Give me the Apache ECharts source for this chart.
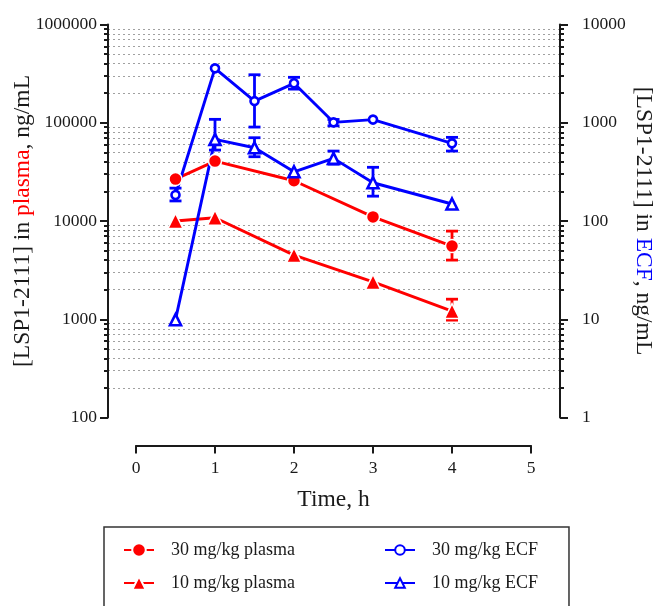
<!DOCTYPE html>
<html><head><meta charset="utf-8">
<script src="https://cdn.jsdelivr.net/npm/echarts@6/dist/echarts.min.js"></script>
<style>html,body{margin:0;padding:0;background:#fff}#c{width:657px;height:606px}</style>
</head><body><div id="c"></div>
<script>
// ---- data ----
const plasma30 = [[0.5,26700],[1,40700],[2,25700],[3,11000],[4,5550]];
const plasma30Err = [[4,4000,7890]];
const plasma10 = [[0.5,10000],[1,10800],[2,4500],[3,2400],[4,1210]];
const plasma10Err = [[4,980,1600]];
const ecf30 = [[0.5,184],[1,3580],[1.5,1660],[2,2520],[2.5,1010],[3,1077],[4,617]];
const ecf30Err = [[0.5,160,216],[1.5,904,3080],[2,2200,2900],[2.5,930,1080],[4,515,710]];
const ecf10 = [[0.5,9.9],[1,678],[1.5,557],[2,317],[2.5,434],[3,245],[4,149]];
const ecf10Err = [[1,527,1083],[1.5,451,704],[2.5,379,515],[3,179,352]];
const xTicks = [0,1,2,3,4,5];
const leftDecades = [100,1000,10000,100000,1000000];
const rightDecades = [1,10,100,1000,10000];
const minorMult = [2,3,4,5,6,7,8,9];
const names = ['30 mg/kg plasma','10 mg/kg plasma','30 mg/kg ECF','10 mg/kg ECF'];

const RED = '#ff0000', BLUE = '#0000ff', INK = '#1a1a1a';
const FONT = 'Liberation Serif';

function minorLogs(decades) {
  const out = [];
  decades.slice(0, -1).forEach(d => minorMult.forEach(m => out.push(Math.log10(d * m))));
  return out;
}
const leftMinor = minorLogs(leftDecades);
const rightMinor = minorLogs(rightDecades);

function errSeries(data, color, yAxisIndex) {
  return {
    type: 'custom', xAxisIndex: 1, yAxisIndex: yAxisIndex, data: data, z: 1,
    encode: {x: 0, y: [1, 2]},
    silent: true,
    renderItem: function (params, api) {
      const x = api.value(0);
      const lo = api.coord([x, api.value(1)]);
      const hi = api.coord([x, api.value(2)]);
      const w = 6;
      const style = {stroke: color, lineWidth: 2.8};
      return {type: 'group', children: [
        {type: 'line', shape: {x1: lo[0], y1: lo[1], x2: hi[0], y2: hi[1]}, style: style},
        {type: 'line', shape: {x1: lo[0]-w, y1: lo[1], x2: lo[0]+w, y2: lo[1]}, style: style},
        {type: 'line', shape: {x1: hi[0]-w, y1: hi[1], x2: hi[0]+w, y2: hi[1]}, style: style}
      ]};
    }
  };
}

function lineSeries(name, data, yAxisIndex, symbol, size, filled, color) {
  return {
    name: name, type: 'line', xAxisIndex: 1, yAxisIndex: yAxisIndex, data: data,
    symbol: symbol, symbolSize: size, showSymbol: true, z: 3,
    lineStyle: {color: color, width: 2.9},
    itemStyle: filled ? {color: color, borderColor: '#fff', borderWidth: 1.5}
                      : {color: '#fff', borderColor: color, borderWidth: 2.6},
    emphasis: {disabled: true}
  };
}

const axisLabelStyle = {color: INK, fontFamily: FONT, fontSize: 17.5};
const nameStyle = {color: INK, fontFamily: FONT, fontSize: 23.5};
const lineOn = {show: true, onZero: false, lineStyle: {color: INK, width: 2}};
const lineOff = {show: false, onZero: false};

const chart = echarts.init(document.getElementById('c'), null, {renderer: 'canvas'});
chart.setOption({
  animation: false,
  backgroundColor: '#fff',
  grid: [
    {left: 108, right: 97, top: 24.5, bottom: 188.5, outerBoundsMode: 'none'},
    {left: 136, right: 126, top: 24.5, bottom: 188.5, outerBoundsMode: 'none'}
  ],
  xAxis: [
    {gridIndex: 0, type: 'value', min: 0, max: 1, show: false, axisLine: lineOff},
    {gridIndex: 1, type: 'value', min: 0, max: 5, interval: 1, offset: 28,
     axisLine: lineOn,
     axisTick: {show: true, length: 8, lineStyle: {color: INK, width: 2}},
     axisLabel: Object.assign({margin: 14, formatter: v => String(v)}, axisLabelStyle),
     splitLine: {show: false},
     name: 'Time, h', nameLocation: 'middle', nameGap: 42, nameMoveOverlap: false, nameTextStyle: nameStyle}
  ],
  yAxis: [
    // 0: grid lines across full width
    {gridIndex: 0, type: 'value', min: 2, max: 6, position: 'left',
     axisLine: lineOff, axisLabel: {show: false},
     axisTick: {show: false, customValues: leftMinor},
     splitLine: {show: true, lineStyle: {color: '#a0a0a0', type: [2, 3], width: 1.2}}},
    // 1: left log axis
    {gridIndex: 1, type: 'log', logBase: 10, min: 100, max: 1000000, position: 'left', offset: 28,
     axisLine: lineOn,
     axisTick: {show: true, length: 8, lineStyle: {color: INK, width: 2}},
     axisLabel: Object.assign({margin: 11, formatter: v => String(Math.round(v))}, axisLabelStyle),
     splitLine: {show: false}, minorTick: {show: false},
     name: '[LSP1-2111] in {r|plasma}, ng/mL', nameLocation: 'middle', nameGap: 73, nameRotate: 90,
     nameMoveOverlap: false,
     nameTextStyle: Object.assign({rich: {r: {color: RED, fontFamily: FONT, fontSize: 23.5}}}, nameStyle)},
    // 2: right log axis
    {gridIndex: 1, type: 'log', logBase: 10, min: 1, max: 10000, position: 'right', offset: 29,
     axisLine: lineOn,
     axisTick: {show: true, length: 8, lineStyle: {color: INK, width: 2}},
     axisLabel: Object.assign({margin: 22, formatter: v => String(Math.round(v))}, axisLabelStyle),
     splitLine: {show: false}, minorTick: {show: false},
     name: '[LSP1-2111] in {b|ECF}, ng/mL', nameLocation: 'middle', nameGap: 71, nameRotate: -90,
     nameMoveOverlap: false,
     nameTextStyle: Object.assign({rich: {b: {color: BLUE, fontFamily: FONT, fontSize: 23.5}}}, nameStyle)},
    // 3: left minor ticks
    {gridIndex: 1, type: 'value', min: 2, max: 6, position: 'left', offset: 28,
     axisLine: lineOff, axisLabel: {show: false}, splitLine: {show: false},
     axisTick: {show: true, length: 4, customValues: leftMinor, lineStyle: {color: INK, width: 2}}},
    // 4: right minor ticks
    {gridIndex: 1, type: 'value', min: 0, max: 4, position: 'right', offset: 29,
     axisLine: lineOff, axisLabel: {show: false}, splitLine: {show: false},
     axisTick: {show: true, length: 4, customValues: rightMinor, lineStyle: {color: INK, width: 2}}}
  ],
  legend: [
    {data: [names[0], names[1]], orient: 'vertical', left: 104, top: 527, height: 120,
     padding: [14, 274, 40, 19], itemGap: 15, itemWidth: 30, itemHeight: 17,
     borderColor: '#333', borderWidth: 1.5, selectedMode: false,
     textStyle: {color: INK, fontFamily: FONT, fontSize: 18, padding: [0, 0, 0, 12]}},
    {data: [names[2], names[3]], orient: 'vertical', left: 384, top: 527, height: 120,
     padding: [14, 5, 5, 0], itemGap: 15, itemWidth: 30, itemHeight: 12, selectedMode: false,
     textStyle: {color: INK, fontFamily: FONT, fontSize: 18, padding: [0, 0, 0, 12]}}
  ],
  series: [
    errSeries(plasma30Err, RED, 1),
    errSeries(plasma10Err, RED, 1),
    errSeries(ecf30Err, BLUE, 2),
    errSeries(ecf10Err, BLUE, 2),
    lineSeries(names[0], plasma30, 1, 'circle', 13, true, RED),
    lineSeries(names[1], plasma10, 1, 'triangle', 15, true, RED),
    lineSeries(names[2], ecf30, 2, 'circle', 8, false, BLUE),
    lineSeries(names[3], ecf10, 2, 'triangle', 11, false, BLUE)
  ]
});
</script></body></html>
